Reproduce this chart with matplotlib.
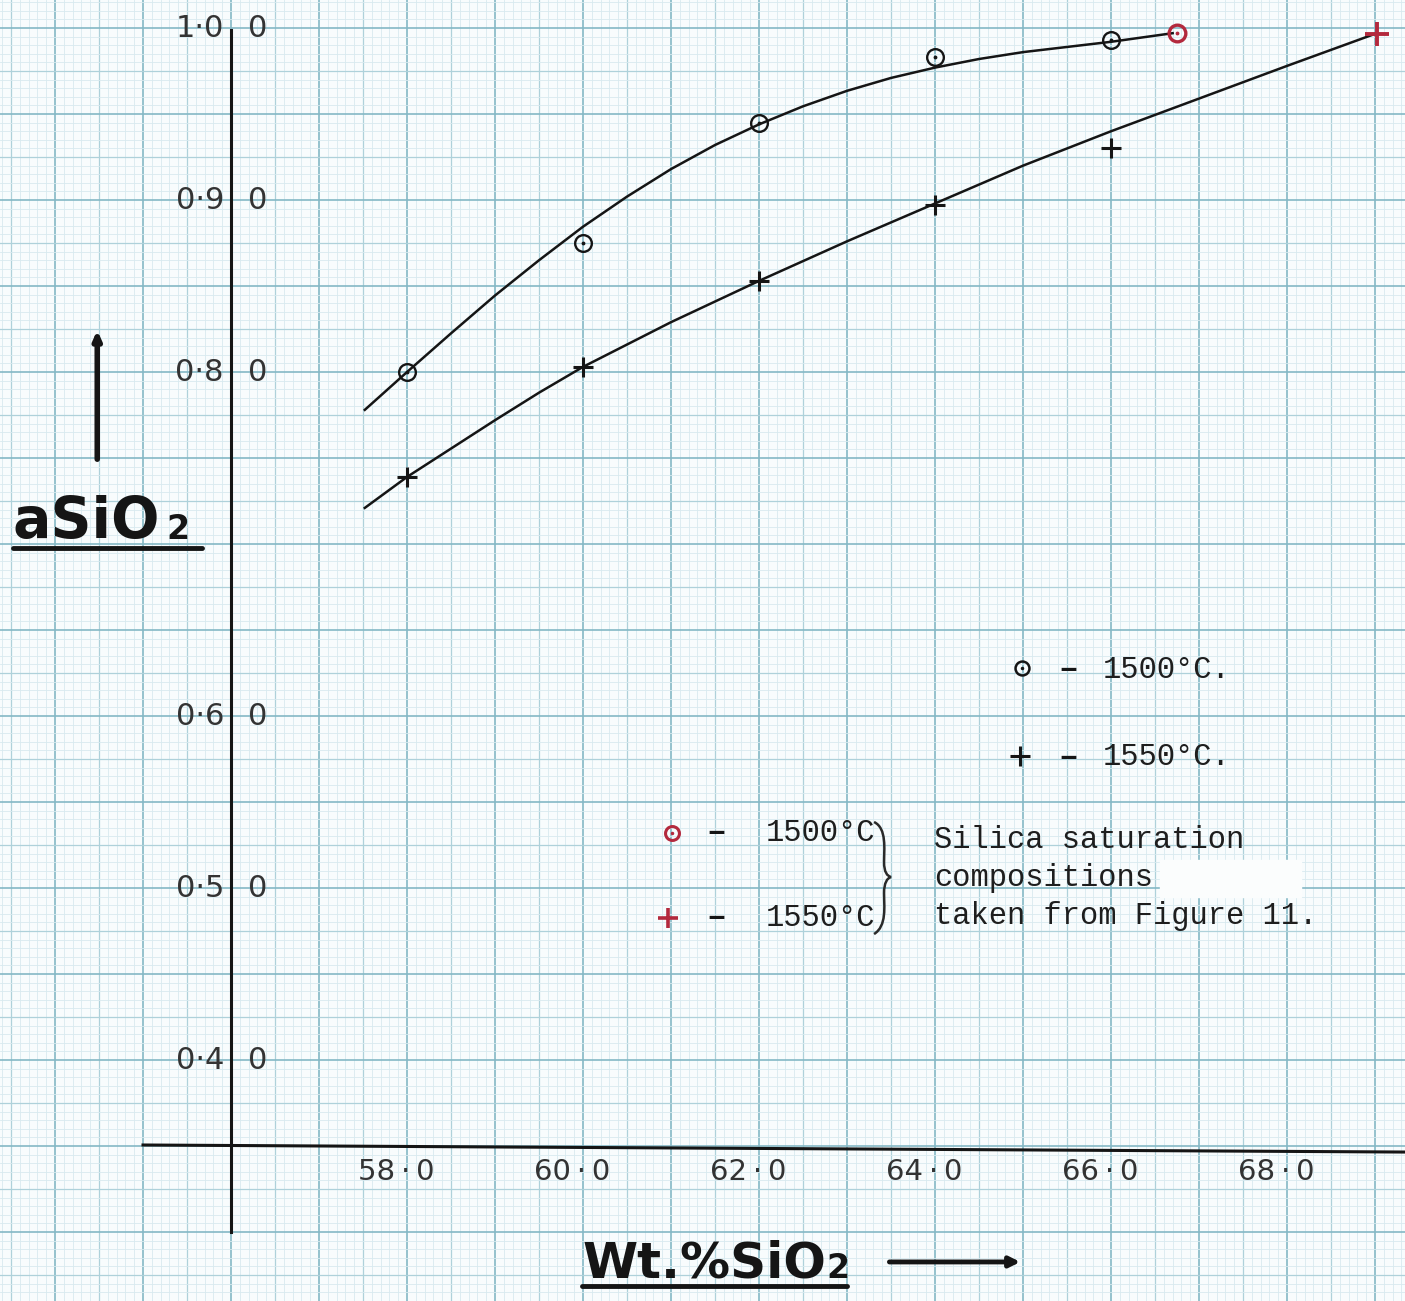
import matplotlib.pyplot as plt
from matplotlib.path import Path
from matplotlib.patches import PathPatch
import numpy as np

# values
sio2_1500 = [58.0, 60.0, 62.0, 64.0, 66.0]
a_1500 = [0.800, 0.875, 0.945, 0.983, 0.993]
sio2_1550 = [58.0, 60.0, 62.0, 64.0, 66.0]
a_1550 = [0.739, 0.803, 0.853, 0.897, 0.930]

# silica saturation compositions (taken from Figure 11)
sat_x = [66.75, 69.02]
sat_y = [0.997, 0.9965]

# hand-drawn curves
curve_1500_x = [57.52, 58.0, 58.5, 59.0, 59.5, 60.0, 60.5, 61.0, 61.5, 62.0,
                62.5, 63.0, 63.5, 64.0, 64.5, 65.0, 65.5, 66.0, 66.7]
curve_1500_y = [0.778, 0.800, 0.8225, 0.8445, 0.865, 0.8845, 0.902, 0.918, 0.932, 0.944,
                0.9545, 0.9635, 0.971, 0.977, 0.982, 0.986, 0.989, 0.992, 0.997]
curve_1550_x = [57.52, 58.0, 58.5, 59.0, 59.5, 60.0, 60.5, 61.0, 61.5, 62.0,
                63.0, 64.0, 65.0, 66.0, 67.0, 68.0, 69.02]
curve_1550_y = [0.721, 0.739, 0.7555, 0.772, 0.788, 0.803, 0.816, 0.829, 0.841, 0.853,
                0.876, 0.898, 0.920, 0.940, 0.959, 0.978, 0.997]

x_ticks = [58.0, 60.0, 62.0, 64.0, 66.0, 68.0]
x_labels = ['58\u2009·\u20090', '60\u2009·\u20090', '62\u2009·\u20090',
            '64\u2009·\u20090', '66\u2009·\u20090', '68\u2009·\u20090']
y_ticks = [1.0, 0.9, 0.8, 0.6, 0.5, 0.4]
y_labels = ['1·0', '0·9', '0·8', '0·6', '0·5', '0·4']

RED = '#b3293d'
INK = '#151515'
TXT = '#1e1e1e'
mono = 'Liberation Mono'

fig = plt.figure(figsize=(14.05, 13.01), dpi=100)
fig.patch.set_facecolor('#f8fcfd')
ax = fig.add_axes([0, 0, 1, 1])
ax.set_xlim(53.375, 69.34)
ax.set_ylim(0.2599, 1.0163)
ax.axis('off')


def px(x, y):
    # picture pixels -> data units, only used for hand-drawn decorations
    return 58 + (x - 407) / 88, 1 - (y - 28) / 1720


# graph paper
def paper_style(k):
    if k % 10 == 0:
        return '#84b8c5', 1.2
    if k % 5 == 0:
        return '#aed1da', 0.9
    return '#d8eaef', 0.6

for k in range(534, 694):
    c, lw = paper_style(k)
    ax.axvline(k / 10, color=c, lw=lw, zorder=0)
for k in range(52, 204):
    c, lw = paper_style(k)
    ax.axhline(k / 200, color=c, lw=lw, zorder=0)

# axes drawn by hand
ax.plot([55.0, 69.34], [0.3506, 0.3465], color=INK, lw=2.2, zorder=3)
ax.plot([56.0, 56.0], [0.300, 0.9988], color=INK, lw=2.2, zorder=3)

for x, lab in zip(x_ticks, x_labels):
    ax.text(x - 0.12, 0.335, lab, ha='center', va='center', fontsize=21, color='#333333')
for y, lab in zip(y_ticks, y_labels):
    ax.text(55.92, y, lab, ha='right', va='center', fontsize=22, color='#333333')
    ax.text(56.19, y, '0', ha='left', va='center', fontsize=22, color='#333333')

# curves and points
ax.plot(curve_1500_x, curve_1500_y, color=INK, lw=1.8, zorder=4)
ax.plot(curve_1550_x, curve_1550_y, color=INK, lw=1.8, zorder=4)
ax.plot(sio2_1500, a_1500, 'o', ms=12, mfc='none', mec=INK, mew=1.7, zorder=5)
ax.plot(sio2_1500, a_1500, '.', ms=3.5, color=INK, zorder=5)
ax.plot(sio2_1550, a_1550, '+', ms=15, mec=INK, mew=2.2, zorder=5)
ax.plot(sat_x[0], sat_y[0], 'o', ms=12, mfc='none', mec=RED, mew=2.4, zorder=6)
ax.plot(sat_x[0], sat_y[0], '.', ms=3.5, color=RED, zorder=6)
ax.plot(sat_x[1], sat_y[1], '+', ms=17, mec=RED, mew=2.8, zorder=6)

# key, upper
ax.plot(64.99, 0.628, 'o', ms=10, mfc='none', mec=INK, mew=1.8)
ax.plot(64.99, 0.628, '.', ms=3, color=INK)
ax.plot(64.97, 0.577, '+', ms=15, mec=INK, mew=2.2)
for y, lab in [(0.627, '1500°C.'), (0.576, '1550°C.')]:
    ax.text(65.51, y, '–', ha='center', va='center', fontsize=24, family=mono,
            fontweight='bold', color=INK)
    ax.text(65.9, y, lab, ha='left', va='center', fontsize=22, family=mono, color=TXT)

# key, saturation points
ax.plot(61.01, 0.532, 'o', ms=10, mfc='none', mec=RED, mew=2.2)
ax.plot(61.01, 0.532, '.', ms=3, color=RED)
ax.plot(60.97, 0.4826, '+', ms=15, mec=RED, mew=2.6)
for y, lab in [(0.532, '1500°C'), (0.4826, '1550°C')]:
    ax.text(61.52, y, '–', ha='center', va='center', fontsize=24, family=mono,
            fontweight='bold', color=INK)
    ax.text(62.08, y, lab, ha='left', va='center', fontsize=22, family=mono, color=TXT)

# hand-drawn brace
brace_px = [(874, 822), (887, 828), (884, 850), (884, 862),
            (884, 872), (887, 876), (891, 877),
            (887, 878), (884, 883), (884, 893),
            (884, 906), (887, 926), (874, 934)]
brace_codes = [Path.MOVETO] + [Path.CURVE4] * 12
brace = Path([px(a, b) for a, b in brace_px], brace_codes)
ax.add_patch(PathPatch(brace, fill=False, lw=1.8, ec='#2a2a2a', zorder=3))

ax.add_patch(plt.Rectangle((66.56, 0.4948), 1.6, 0.0215, color='#fbfdfd', zorder=2))
for y, lab in [(0.528, 'Silica saturation'), (0.506, 'compositions'),
               (0.484, 'taken from Figure 11.')]:
    ax.text(63.99, y, lab, ha='left', va='center', fontsize=22, family=mono,
            color=TXT, zorder=3)

# axis titles
ax.text(53.52, 0.7035, 'aSiO', ha='left', va='baseline', fontsize=41, fontweight='bold',
        color=INK)
ax.text(55.26, 0.7030, '2', ha='left', va='baseline', fontsize=24, fontweight='bold', color=INK)
ax.plot([53.52, 55.67], [0.6977, 0.6977], color=INK, lw=3.5, solid_capstyle='round')
ax.annotate('', xy=(54.48, 0.826), xytext=(54.48, 0.7477),
            arrowprops=dict(arrowstyle='-|>,head_length=0.5,head_width=0.22', lw=4,
                            color=INK))

ax.text(59.99, 0.2738, 'Wt.%SiO', ha='left', va='baseline', fontsize=36, fontweight='bold',
        color=INK)
ax.text(62.77, 0.2735, '2', ha='left', va='baseline', fontsize=24, fontweight='bold', color=INK)
ax.plot([59.99, 63.0], [0.2686, 0.2686], color=INK, lw=3.5, solid_capstyle='round')
ax.annotate('', xy=(65.0, 0.2826), xytext=(63.45, 0.2826),
            arrowprops=dict(arrowstyle='-|>,head_length=0.6,head_width=0.3', lw=3.5,
                            color=INK))

fig.savefig('out.png', dpi=100, facecolor=fig.get_facecolor())
